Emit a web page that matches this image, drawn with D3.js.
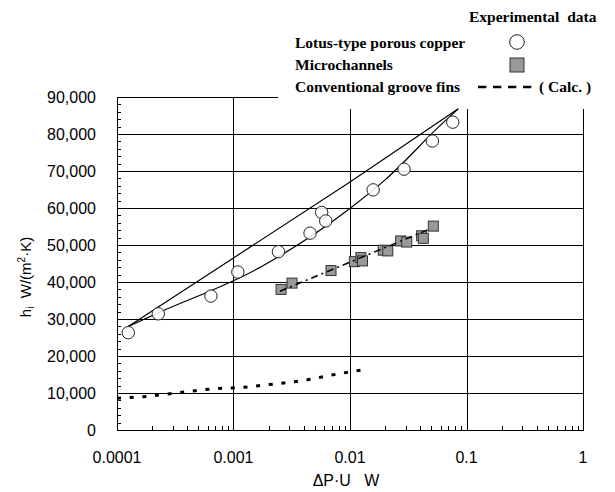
<html>
<head>
<meta charset="utf-8">
<style>
  body { margin: 0; background: #fff; }
  svg text { font-family: "Liberation Sans", Arial, sans-serif; }
  .leg { font-family: "Liberation Serif", "Times New Roman", serif; font-weight: bold; font-size: 15.5px; }
</style>
</head>
<body>
<script src="https://d3js.org/d3.v7.min.js"></script>
<script>
// tick values
var xTicks = [0.0001, 0.001, 0.01, 0.1, 1];
var xTickLabels = ["0.0001", "0.001", "0.01", "0.1", "1"];
var yTicks = [0, 10000, 20000, 30000, 40000, 50000, 60000, 70000, 80000, 90000];

// Lotus-type porous copper (circles)
var lotusX = [0.000125, 0.000226, 0.00064, 0.00109, 0.00243, 0.00454, 0.00571, 0.00619, 0.0158, 0.0291, 0.0509, 0.0762];
var lotusY = [26300, 31400, 36200, 42700, 48200, 53200, 58800, 56500, 64900, 70500, 78100, 83200];

// Microchannels (squares)
var microX = [0.00256, 0.00318, 0.00687, 0.0109, 0.0124, 0.0128, 0.0193, 0.0211, 0.0272, 0.0307, 0.0412, 0.0426, 0.0519];
var microY = [38000, 39700, 43100, 45500, 46600, 45700, 48600, 48400, 51100, 50800, 52500, 51800, 55100];

// fit line through microchannels
var microFitX = [0.0025, 0.05];
var microFitY = [37500, 54500];

// two calculated curves for lotus copper
var upperX = [0.000125, 0.001, 0.01, 0.085];
var upperY = [28000, 46500, 67000, 86800];
var lowerX = [0.000125, 0.00022, 0.0017, 0.0103, 0.02, 0.0627, 0.085];
var lowerY = [28000, 31500, 44000, 60200, 67600, 83000, 86800];

// Conventional groove fins (Calc.)
var grooveX = [0.0001, 0.000167, 0.000359, 0.000813, 0.00103, 0.00218, 0.00454, 0.0063, 0.0104, 0.0137];
var grooveY = [8600, 9000, 10200, 11300, 11400, 12400, 13700, 14600, 15800, 16400];

var W = 615, H = 492;
var L = 117, R = 583, T = 97, B = 430;

var svg = d3.select("body").append("svg").attr("width", W).attr("height", H);

var x = d3.scaleLog().domain([0.0001, 1]).range([L, R]);
var y = d3.scaleLinear().domain([0, 90000]).range([B, T]);

function zip(xs, ys) { return xs.map(function(v, i){ return [v, ys[i]]; }); }

var g = svg.append("g").attr("shape-rendering", "crispEdges");

// horizontal grid
g.selectAll(".hg").data(yTicks.slice(1)).enter().append("line")
  .attr("x1", L).attr("x2", R)
  .attr("y1", function(d){ return Math.round(y(d)) + 0.5; })
  .attr("y2", function(d){ return Math.round(y(d)) + 0.5; })
  .attr("stroke", "#000").attr("stroke-width", 1);

// vertical grid
g.selectAll(".vg").data(xTicks).enter().append("line")
  .attr("x1", function(d){ return Math.round(x(d)) + 0.5; })
  .attr("x2", function(d){ return Math.round(x(d)) + 0.5; })
  .attr("y1", T).attr("y2", B)
  .attr("stroke", "#000").attr("stroke-width", 1);

// bottom axis line
g.append("line").attr("x1", L).attr("x2", R + 1)
  .attr("y1", B + 0.5).attr("y2", B + 0.5).attr("stroke", "#000");

// minor x ticks (inward)
var minorX = [];
[0.0001, 0.001, 0.01, 0.1].forEach(function(d){
  for (var k = 2; k <= 9; k++) minorX.push(d * k);
});
g.selectAll(".mx").data(minorX).enter().append("line")
  .attr("x1", function(d){ return Math.round(x(d)) + 0.5; })
  .attr("x2", function(d){ return Math.round(x(d)) + 0.5; })
  .attr("y1", B).attr("y2", B - 4)
  .attr("stroke", "#000");

// minor y ticks every 2000
var minorY = d3.range(2000, 90000, 2000).filter(function(d){ return d % 10000 != 0; });
g.selectAll(".my").data(minorY).enter().append("line")
  .attr("x1", L).attr("x2", L + 4)
  .attr("y1", function(d){ return Math.round(y(d)) + 0.5; })
  .attr("y2", function(d){ return Math.round(y(d)) + 0.5; })
  .attr("stroke", "#000");

// legend box hides the top right of the frame
svg.append("rect").attr("x", 278).attr("y", 0).attr("width", W - 278).attr("height", 109).attr("fill", "#fff");

// tick labels
svg.selectAll(".yl").data(yTicks).enter().append("text")
  .attr("x", 96).attr("y", function(d){ return y(d); }).attr("dy", "0.35em")
  .attr("text-anchor", "end").attr("font-size", "16px")
  .text(d3.format(","));

svg.selectAll(".xl").data(xTicks).enter().append("text")
  .attr("x", function(d){ return x(d); }).attr("y", 463)
  .attr("text-anchor", "middle").attr("font-size", "16px")
  .text(function(d, i){ return xTickLabels[i]; });

// axis titles
svg.append("text").attr("x", 346).attr("y", 486).attr("text-anchor", "middle")
  .attr("font-size", "16px").style("white-space", "pre").text("\u0394P\u00b7U   W");

var yt = svg.append("text").attr("transform", "translate(31,277) rotate(-90)")
  .attr("text-anchor", "middle").attr("font-size", "15px").style("white-space", "pre");
yt.append("tspan").text("h");
yt.append("tspan").attr("font-size", "10px").attr("dy", 3).text("i");
yt.append("tspan").attr("dy", -3).text("  W/(m");
yt.append("tspan").attr("font-size", "10px").attr("dy", -6).text("2");
yt.append("tspan").attr("dy", 6).text("\u00b7K)");

// curves
var line = d3.line().x(function(d){ return x(d[0]); }).y(function(d){ return y(d[1]); });
var smooth = d3.line().x(function(d){ return x(d[0]); }).y(function(d){ return y(d[1]); }).curve(d3.curveMonotoneX);

svg.append("path").attr("d", line(zip(upperX, upperY)))
  .attr("fill", "none").attr("stroke", "#000").attr("stroke-width", 1.2);
svg.append("path").attr("d", smooth(zip(lowerX, lowerY)))
  .attr("fill", "none").attr("stroke", "#000").attr("stroke-width", 1.2);

svg.append("path").attr("d", smooth(zip(grooveX, grooveY)))
  .attr("fill", "none").attr("stroke", "#000").attr("stroke-width", 3)
  .attr("stroke-dasharray", "4,8.7");

// squares
svg.selectAll(".sq").data(zip(microX, microY)).enter().append("rect")
  .attr("x", function(d){ return x(d[0]) - 5; })
  .attr("y", function(d){ return y(d[1]) - 5; })
  .attr("width", 10).attr("height", 10)
  .attr("fill", "#999").attr("stroke", "#333").attr("stroke-width", 1);

svg.append("path").attr("d", line(zip(microFitX, microFitY)))
  .attr("fill", "none").attr("stroke", "#000").attr("stroke-width", 1.5)
  .attr("stroke-dasharray", "7,4,2,4");

// circles
svg.selectAll(".ci").data(zip(lotusX, lotusY)).enter().append("circle")
  .attr("cx", function(d){ return x(d[0]); })
  .attr("cy", function(d){ return y(d[1]); })
  .attr("r", 6.2)
  .attr("fill", "#fff").attr("fill-opacity", 0.85)
  .attr("stroke", "#222").attr("stroke-width", 1);

// legend
svg.append("text").attr("class", "leg").attr("x", 469).attr("y", 22).text("Experimental  data").style("white-space", "pre");
svg.append("text").attr("class", "leg").attr("x", 295).attr("y", 48).text("Lotus-type porous copper");
svg.append("text").attr("class", "leg").attr("x", 295).attr("y", 70).text("Microchannels");
svg.append("text").attr("class", "leg").attr("x", 295).attr("y", 92).text("Conventional groove fins");
svg.append("text").attr("class", "leg").attr("x", 539).attr("y", 92).text("( Calc. )").style("white-space", "pre");

svg.append("circle").attr("cx", 517).attr("cy", 42).attr("r", 7.3)
  .attr("fill", "#fff").attr("stroke", "#222").attr("stroke-width", 1);
svg.append("rect").attr("x", 510).attr("y", 58).attr("width", 14).attr("height", 14)
  .attr("fill", "#999").attr("stroke", "#333").attr("stroke-width", 1);
svg.append("line").attr("x1", 478).attr("x2", 534).attr("y1", 87).attr("y2", 87)
  .attr("stroke", "#000").attr("stroke-width", 2.5).attr("stroke-dasharray", "8.3,6.7");
</script>
</body>
</html>
